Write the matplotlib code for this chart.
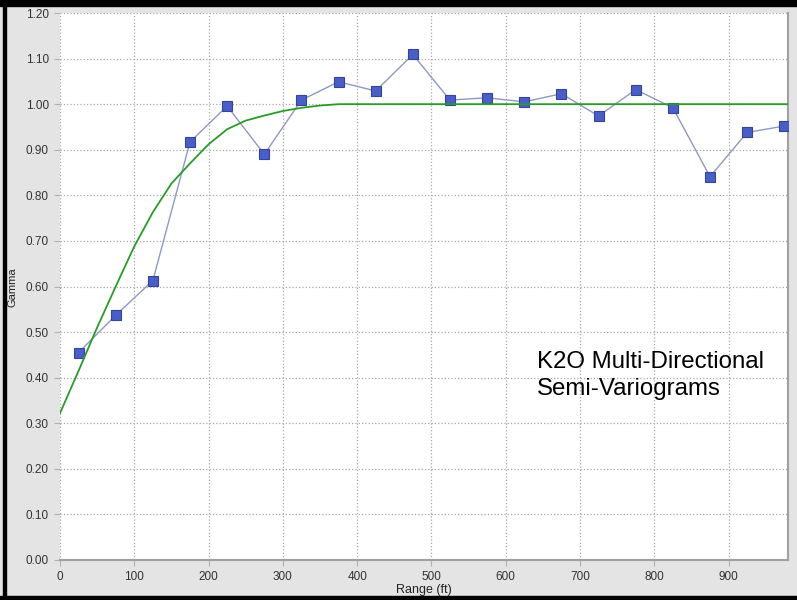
import matplotlib
matplotlib.use("Agg")
import matplotlib.pyplot as plt
from matplotlib.patches import Rectangle

plt.rcParams['font.family'] = ['Liberation Sans', 'DejaVu Sans']

# experimental semi-variogram (lag centre, gamma)
lag = [25, 75, 125, 175, 225, 275, 325, 375, 425, 475, 525, 575, 625, 675,
       725, 775, 825, 875, 925, 975]
gamma = [0.455, 0.537, 0.613, 0.917, 0.996, 0.890, 1.009, 1.049, 1.029, 1.109,
         1.009, 1.014, 1.005, 1.023, 0.974, 1.032, 0.992, 0.841, 0.938, 0.952]

# fitted model curve
model_h = [0, 25, 50, 75, 100, 125, 150, 175, 200, 225, 250, 275, 300, 325,
           350, 375, 980]
model_g = [0.322, 0.415, 0.510, 0.600, 0.688, 0.763, 0.826, 0.870, 0.912, 0.945,
           0.964, 0.975, 0.985, 0.992, 0.997, 1.0, 1.0]

xticks = [0, 100, 200, 300, 400, 500, 600, 700, 800, 900]
yticks = [0.0, 0.1, 0.2, 0.3, 0.4, 0.5, 0.6, 0.7, 0.8, 0.9, 1.0, 1.1, 1.2]

fig = plt.figure(figsize=(7.97, 6.0), dpi=100)
fig.patch.set_facecolor('#e4e4e4')
ax = fig.add_axes([60/797, 40/600, 728/797, 547/600])
ax.set_facecolor('white')

ax.plot(lag, gamma, color='#8e98c4', lw=1.0, marker='s', markersize=6.5,
        markerfacecolor='#4a5ec6', markeredgecolor='#34449a', markeredgewidth=0.8,
        zorder=3)
ax.plot(model_h, model_g, color='#2a9a2a', lw=1.3, zorder=4)

ax.set_xlim(0, 980)
ax.set_ylim(0, 1.2)
ax.set_xticks(xticks)
ax.set_yticks(yticks)
ax.set_yticklabels(['%.2f' % v for v in yticks])
ax.grid(True, color='#a8a8a8', linestyle=':', linewidth=0.9)
ax.tick_params(length=4, width=0.8, color='#b0b0b0', pad=4,
               labelsize=8.5, labelcolor='#333333')

for side in ['top', 'left']:
    ax.spines[side].set_visible(False)
for side in ['right', 'bottom']:
    ax.spines[side].set_color('#a0a0a0')
    ax.spines[side].set_linewidth(1.5)

ax.set_xlabel('Range (ft)', fontsize=9, color='#222222', labelpad=1)
fig.text(12/797, 1 - 287/600, 'Gamma', rotation=90, fontsize=8,
         color='#222222', ha='center', va='center')

ax.text(642, 0.405, 'K2O Multi-Directional\nSemi-Variograms', fontsize=17.3,
        color='black', ha='left', va='center', linespacing=1.3)

# outer frame of the screenshot
fig.add_artist(Rectangle((0, 1 - 6/600), 1, 6/600, color='black',
                         transform=fig.transFigure))
fig.add_artist(Rectangle((0, 0), 1, 4/600, color='black',
                         transform=fig.transFigure))
fig.add_artist(Rectangle((3/797, 0), 2.5/797, 1, color='black',
                         transform=fig.transFigure))

fig.savefig('out.png', dpi=100, facecolor=fig.get_facecolor())
